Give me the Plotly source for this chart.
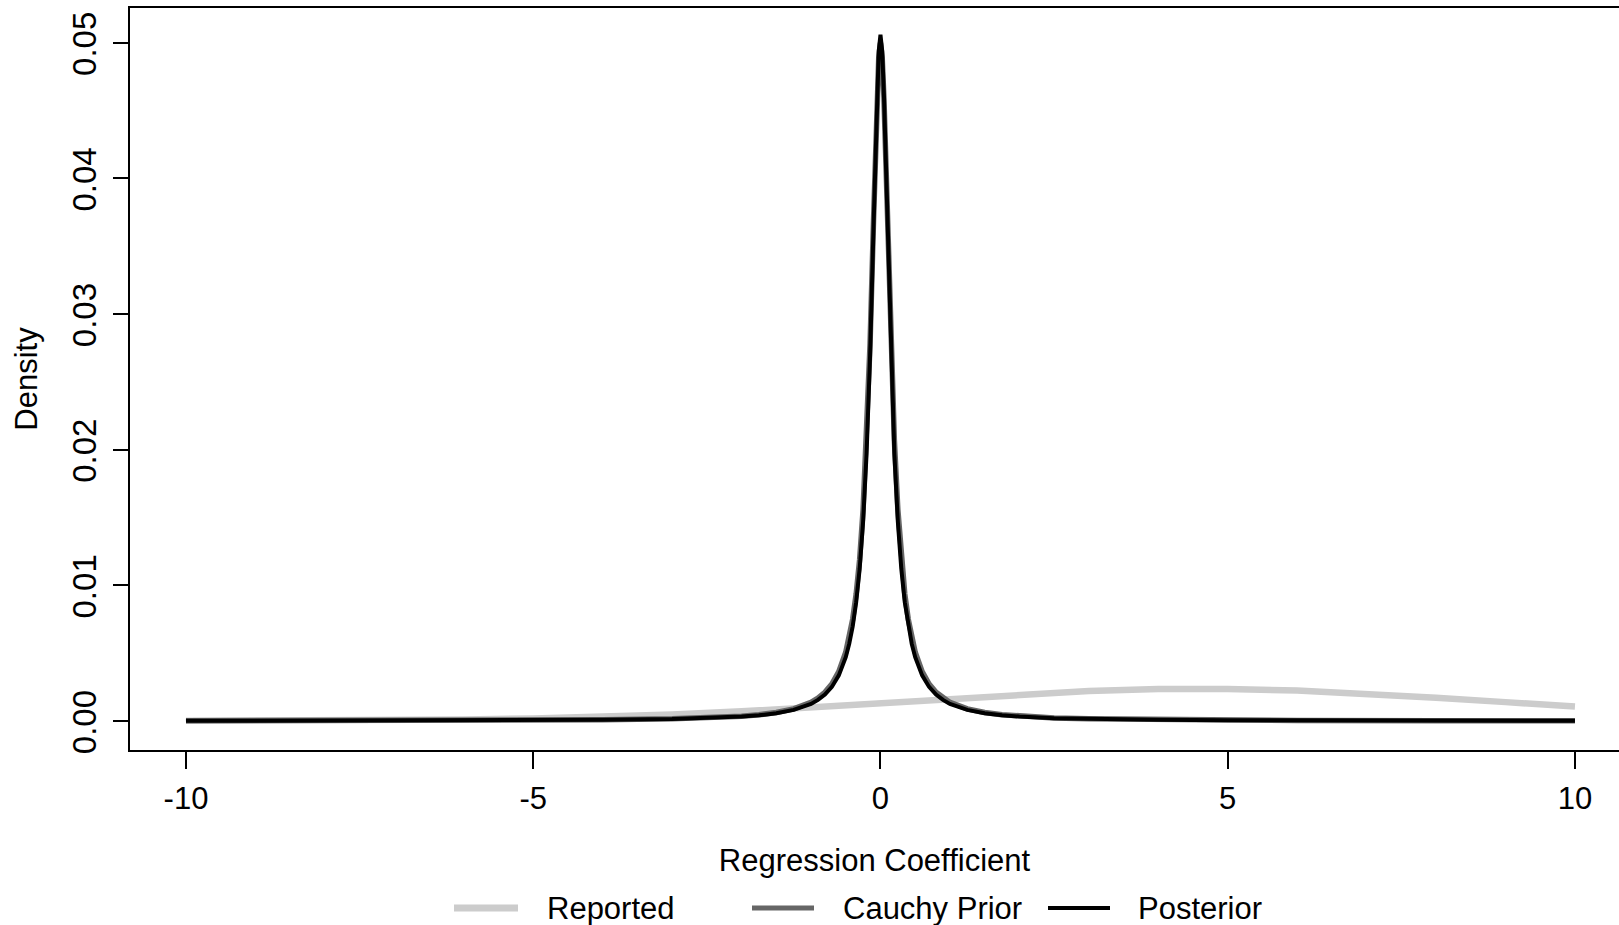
import plotly.graph_objects as go

# ---- data ----
reported_x = [-10, -9, -8, -7, -6, -5, -4, -3, -2, -1, 0, 1, 2, 3, 4, 5, 6, 7, 8, 9, 10]
reported_y = [0.00001, 0.000014, 0.000029, 0.000057, 0.000106, 0.000185, 0.000305, 0.000478,
              0.000709, 0.000995, 0.00132, 0.00166, 0.00197, 0.00221, 0.00235, 0.00236,
              0.00224, 0.00202, 0.00172, 0.00139, 0.00106]

peak_x = [-10, -8, -6, -5, -4, -3, -2.5, -2, -1.75, -1.5, -1.25, -1, -0.9, -0.8, -0.7, -0.6,
          -0.5, -0.45, -0.4, -0.35, -0.3, -0.25, -0.2, -0.15, -0.1, -0.075, -0.05, -0.025,
          0, 0.025, 0.05, 0.075, 0.1, 0.15, 0.2, 0.25, 0.3, 0.35, 0.4, 0.45, 0.5, 0.6, 0.7,
          0.8, 0.9, 1, 1.25, 1.5, 1.75, 2, 2.5, 3, 4, 5, 6, 8, 10]

prior_y = [0.000014, 0.000022, 0.000039, 0.000056, 0.000088, 0.000156, 0.000225, 0.00035,
           0.000457, 0.00062, 0.000887, 0.00137, 0.00168, 0.00211, 0.00272, 0.00364,
           0.00507, 0.00612, 0.0075, 0.00936, 0.0119, 0.0156, 0.0207, 0.0278, 0.0369,
           0.0417, 0.0459, 0.0489,
           0.0500,
           0.0489, 0.0459, 0.0417, 0.0369, 0.0278, 0.0207, 0.0156, 0.0119, 0.00936, 0.0075,
           0.00612, 0.00507, 0.00364, 0.00272, 0.00211, 0.00168, 0.00137, 0.000887, 0.00062,
           0.000457, 0.00035, 0.000225, 0.000156, 0.000088, 0.000056, 0.000039, 0.000022,
           0.000014]

posterior_y = [0.000013, 0.00002, 0.000036, 0.000052, 0.000081, 0.000144, 0.000207, 0.000322,
               0.00042, 0.000569, 0.000816, 0.00126, 0.00155, 0.00195, 0.00251, 0.00336,
               0.0047, 0.00568, 0.00698, 0.00875, 0.0112, 0.0147, 0.0197, 0.0269, 0.0364,
               0.0415, 0.0461, 0.0494,
               0.0506,
               0.0494, 0.0461, 0.0415, 0.0364, 0.0269, 0.0197, 0.0147, 0.0112, 0.00875,
               0.00698, 0.00568, 0.0047, 0.00336, 0.00251, 0.00195, 0.00155, 0.00126,
               0.000816, 0.000569, 0.00042, 0.000322, 0.000207, 0.000144, 0.000081, 0.000052,
               0.000036, 0.00002, 0.000013]

series_names = ["Reported", "Cauchy Prior", "Posterior"]

x_tickvals = [-10, -5, 0, 5, 10]
x_ticktext = ["-10", "-5", "0", "5", "10"]
y_tickvals = [0.0, 0.01, 0.02, 0.03, 0.04, 0.05]
y_ticktext = ["0.00", "0.01", "0.02", "0.03", "0.04", "0.05"]

FONT = "Liberation Sans, Arial, Helvetica, sans-serif"
COLORS = ["#cccccc", "#666666", "#000000"]
WIDTHS = [6.5, 5.5, 4]

fig = go.Figure()
for xs, ys, name, col, w in [(reported_x, reported_y, series_names[0], COLORS[0], WIDTHS[0]),
                              (peak_x, prior_y, series_names[1], COLORS[1], WIDTHS[1]),
                              (peak_x, posterior_y, series_names[2], COLORS[2], WIDTHS[2])]:
    fig.add_trace(go.Scatter(x=xs, y=ys, mode="lines", name=name, showlegend=False,
                             line=dict(color=col, width=w)))

# manual legend below the plot (R-style long line keys)
PL, PW, PB, PH = 130, 1489, 750, 742   # plot area in pixels
def px_x(X):
    return (X - PL) / PW
def px_y(Y):
    return (PB - Y) / PH

legend_keys = [(454, 518, 545), (752, 814, 841), (1048, 1110, 1136)]
legend_y = 908
key_widths = [7, 5, 4]
for (x0, x1, tx), name, col, kw in zip(legend_keys, series_names, COLORS, key_widths):
    fig.add_shape(type="line", xref="paper", yref="paper",
                  x0=px_x(x0), x1=px_x(x1), y0=px_y(legend_y), y1=px_y(legend_y),
                  line=dict(color=col, width=kw))
    fig.add_annotation(xref="paper", yref="paper", x=px_x(tx), y=px_y(legend_y + 1),
                       text=name, showarrow=False, xanchor="left", yanchor="middle",
                       font=dict(size=31, color="black", family=FONT))

fig.update_layout(
    width=1619, height=925,
    margin=dict(l=130, r=0, t=8, b=175, autoexpand=False),
    paper_bgcolor="white", plot_bgcolor="white",
    font=dict(family=FONT, size=31, color="black"),
    showlegend=False,
)
fig.update_xaxes(
    range=[-10.806, 10.634], tickvals=x_tickvals, ticktext=x_ticktext,
    ticks="outside", ticklen=17, tickwidth=2, tickcolor="black",
    showline=True, linewidth=2, linecolor="black", mirror=True,
    showgrid=False, zeroline=False, ticklabelstandoff=3,
    tickfont=dict(size=31),
    title=dict(text="Regression Coefficient", standoff=34, font=dict(size=31)),
)
fig.update_yaxes(
    range=[-0.00214, 0.05256], tickvals=y_tickvals, ticktext=y_ticktext,
    tickangle=-90, ticks="outside", ticklen=15, tickwidth=2, tickcolor="black",
    showline=True, linewidth=2, linecolor="black", mirror=False,
    showgrid=False, zeroline=False, ticklabelstandoff=4, ticklabelshift=6,
    ticklabeloverflow="allow",
    tickfont=dict(size=33),
    title=dict(text="Density", standoff=19, font=dict(size=31)),
)

fig.write_html("out.html")
